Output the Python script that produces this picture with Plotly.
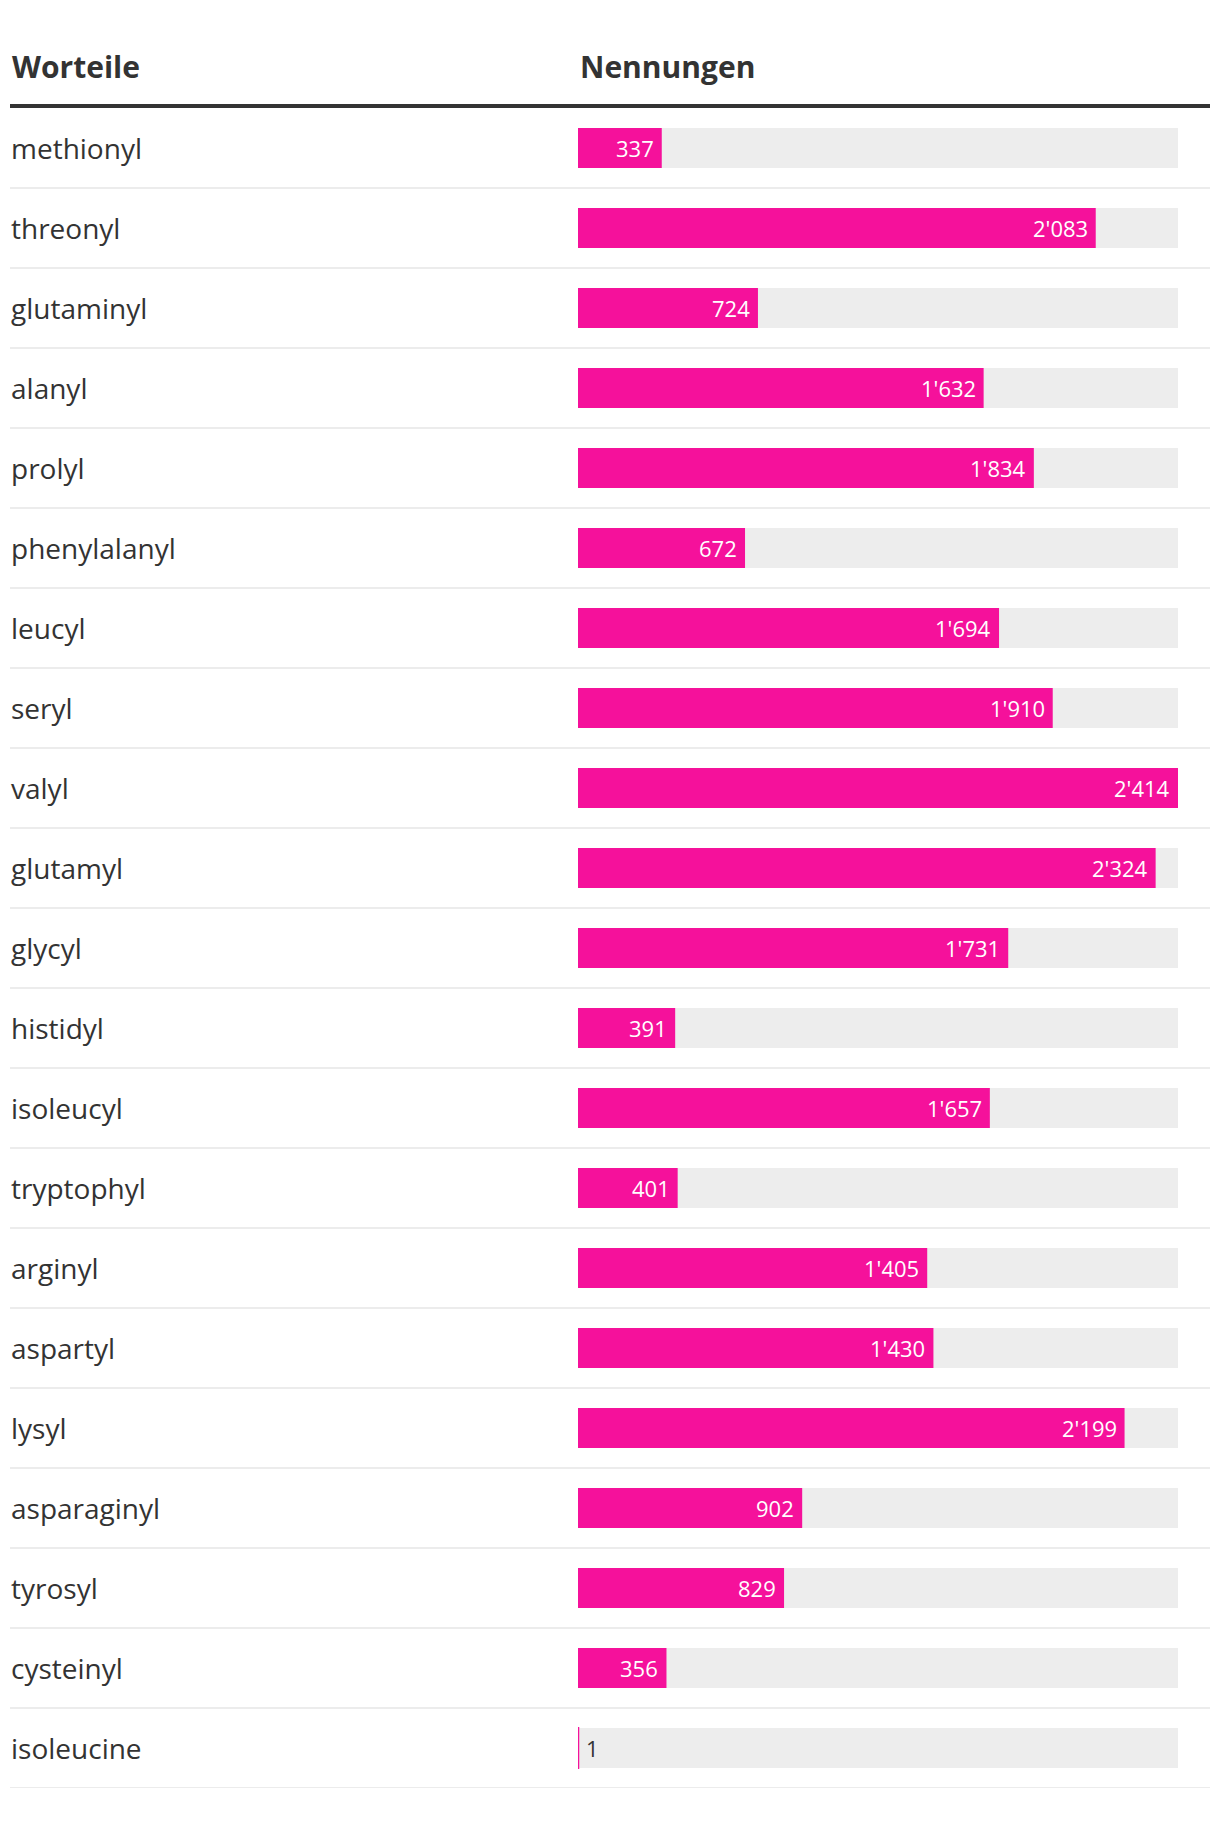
import plotly.graph_objects as go

# Daten
worteile = ["methionyl", "threonyl", "glutaminyl", "alanyl", "prolyl", "phenylalanyl",
            "leucyl", "seryl", "valyl", "glutamyl", "glycyl", "histidyl", "isoleucyl",
            "tryptophyl", "arginyl", "aspartyl", "lysyl", "asparaginyl", "tyrosyl",
            "cysteinyl", "isoleucine"]
nennungen = [337, 2083, 724, 1632, 1834, 672, 1694, 1910, 2414, 2324, 1731, 391,
             1657, 401, 1405, 1430, 2199, 902, 829, 356, 1]
spalten = ["Worteile", "Nennungen"]

# die Seite hat 8px Rand (body margin), also alles um 8px verschieben
OFF = 8
W, H = 1220 - OFF, 1838 - OFF
TOP_PX, ROW = 108, 80
TOP = TOP_PX - OFF
n = len(worteile)
BOTTOM = H - (TOP + ROW * n)
PINK = "#f5119b"
TEXT = "#333333"
FONT = "Open Sans"

vmax = max(nennungen)
idx = list(range(n))


def px(x):
    # Seiten-Pixel -> paper-Koordinate
    return (x - OFF) / W


def fmt(v):
    return f"{v:,}".replace(",", "'")


fig = go.Figure()
# grauer Hintergrundbalken
fig.add_trace(go.Bar(
    x=[vmax] * n, y=idx, orientation="h", width=0.5,
    marker=dict(color="#ededed", line=dict(width=0)),
    hoverinfo="skip",
))
# Wertbalken (sehr kleine Werte bekommen eine Mindestbreite per Rand)
fig.add_trace(go.Bar(
    x=nennungen, y=idx, orientation="h", width=0.5,
    marker=dict(color=PINK,
                line=dict(color=PINK, width=[2 if v / vmax < 0.01 else 0 for v in nennungen])),
    hovertemplate="%{x}<extra></extra>",
))

annotations = []
shapes = []
for i, (name, v) in enumerate(zip(worteile, nennungen)):
    annotations.append(dict(
        x=px(9), xref="paper", y=i, yref="y", text=name, showarrow=False,
        xanchor="left", yanchor="middle", font=dict(family=FONT, size=28, color=TEXT),
    ))
    inside = v / vmax > 0.05
    annotations.append(dict(
        x=v, xref="x", y=i, yref="y", text=fmt(v), showarrow=False,
        xanchor="right" if inside else "left", xshift=-6 if inside else 6,
        yanchor="middle",
        font=dict(family=FONT, size=22, color="white" if inside else TEXT),
    ))
    shapes.append(dict(
        type="line", xref="paper", yref="y", x0=px(10), x1=px(1210),
        y0=i + 0.5, y1=i + 0.5, line=dict(color="#ececec", width=2),
    ))

plot_h = ROW * n
# Kopfzeile
for label, xpx in zip(spalten, [10, 578]):
    annotations.append(dict(
        x=px(xpx), xref="paper", y=1 + (TOP_PX - 66) / plot_h, yref="paper",
        text=f"<b>{label}</b>", showarrow=False, xanchor="left", yanchor="middle",
        font=dict(family=FONT, size=30, color=TEXT),
    ))
shapes.append(dict(
    type="line", xref="paper", yref="paper", x0=px(10), x1=px(1210),
    y0=1 + (TOP_PX - 106) / plot_h, y1=1 + (TOP_PX - 106) / plot_h,
    line=dict(color=TEXT, width=4),
))

fig.update_layout(
    width=W, height=H,
    margin=dict(l=0, r=0, t=TOP, b=BOTTOM),
    barmode="overlay",
    showlegend=False,
    plot_bgcolor="white", paper_bgcolor="white",
    xaxis=dict(domain=[px(578), px(1178)], range=[0, vmax], visible=False, fixedrange=True),
    yaxis=dict(range=[n - 0.5, -0.5], visible=False, fixedrange=True),
    annotations=annotations,
    shapes=shapes,
    font=dict(family=FONT, color=TEXT),
)

fig.write_html("out.html")
